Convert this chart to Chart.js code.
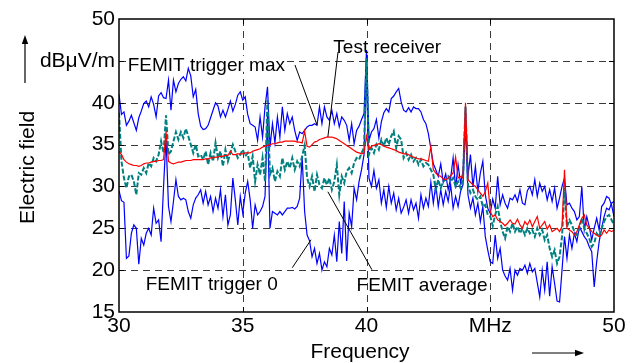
<!DOCTYPE html>
<html><head><meta charset="utf-8">
<script src="https://cdn.jsdelivr.net/npm/chart.js@4.4.1/dist/chart.umd.min.js"></script>
<style>html,body{margin:0;padding:0;background:#fff;}canvas{display:block;}</style>
</head><body>
<canvas id="c" width="636" height="363"></canvas>
<script>
// sampling grid: 30.0 ... 50.0 MHz, 0.1 MHz spacing
const freqStart = 30, freqStep = 0.1;

const triggerMax = [
41.0,38.6,38.9,37.3,37.8,38.5,37.6,36.7,38.2,39.0,
39.9,40.2,39.5,40.7,39.8,38.3,40.8,41.2,40.6,40.5,
42.7,39.1,42.7,41.3,42.3,42.8,43.1,42.6,44.1,43.2,
40.7,41.6,38.7,37.2,36.8,36.9,37.3,38.2,39.1,40.0,
39.6,38.3,39.1,38.3,39.2,40.2,39.0,39.8,40.9,41.3,
40.3,40.7,38.6,37.5,37.3,37.1,35.5,38.3,35.9,39.5,
41.9,34.7,37.5,35.2,38.3,35.9,39.5,36.7,38.7,37.5,
38.3,36.7,35.5,36.5,36.3,36.7,37.1,37.3,37.3,37.5,
37.3,39.5,37.5,39.5,38.3,37.9,39.1,37.5,38.7,37.1,
38.3,37.9,37.3,35.5,37.5,35.1,36.7,37.2,38.0,38.7,
46.3,35.5,36.5,36.9,38.0,35.8,37.7,38.8,39.3,38.9,
40.5,40.8,41.3,41.7,40.1,39.1,38.9,39.4,38.9,39.5,
39.3,39.3,38.9,38.0,37.5,36.3,34.5,32.7,32.0,31.2,
32.7,30.5,31.5,29.6,31.0,33.4,29.8,32.6,30.4,31.8,
39.5,31.2,33.8,30.0,32.4,29.4,31.6,33.0,29.0,27.4,
26.8,28.5,27.4,31.2,27.8,29.0,28.0,27.4,28.6,28.4,
29.0,28.2,29.6,28.0,27.8,29.5,30.0,29.0,30.8,28.8,
30.4,29.4,30.0,28.4,29.6,28.2,29.8,27.4,28.6,30.0,
31.0,27.8,28.0,27.4,27.0,26.0,26.4,30.0,24.8,26.4,
25.2,23.6,25.0,26.2,24.8,27.6,28.0,28.8,28.6,27.8,
26.4];

const trigger0 = [
29.5,28.3,28.1,21.4,21.7,24.4,25.4,25.0,20.7,23.8,
23.0,24.4,25.0,24.2,27.4,25.6,26.0,23.4,30.0,35.8,
27.6,25.8,28.2,30.8,28.8,28.4,28.6,28.4,27.0,26.2,
27.8,28.6,29.0,29.6,28.0,29.4,27.8,28.8,27.0,28.6,
27.4,29.6,26.4,29.0,25.4,26.6,31.0,28.4,25.4,28.8,
26.8,29.2,30.6,28.4,25.0,27.8,26.6,27.0,27.6,28.8,
38.5,25.0,27.0,26.8,26.6,27.0,26.6,27.0,27.4,27.4,
27.5,27.3,27.6,28.6,33.5,27.0,24.2,23.5,21.6,22.6,
20.8,22.0,20.0,21.0,20.4,22.6,21.8,24.2,21.0,25.8,
22.0,28.2,21.1,26.8,25.2,29.8,28.4,30.6,32.0,33.8,
44.0,31.0,30.0,31.9,29.8,30.8,28.0,29.6,27.5,30.0,
28.0,29.2,27.2,28.6,26.8,27.5,28.4,26.8,28.4,27.2,
28.0,26.2,29.0,27.4,28.6,27.6,30.5,28.0,30.2,27.6,
29.6,27.8,29.4,28.2,30.2,27.4,28.8,27.6,29.4,30.2,
37.5,29.0,27.4,28.6,26.6,28.0,25.8,27.6,24.0,22.4,
21.0,20.8,24.2,21.4,22.6,20.0,19.3,18.8,20.2,17.6,
20.0,19.4,20.2,20.0,20.6,19.6,20.8,19.8,20.2,18.5,
16.8,20.0,17.6,21.0,16.9,20.4,18.4,16.3,16.2,20.0,
24.0,21.4,24.2,22.6,24.4,23.4,25.2,24.6,24.0,23.6,
22.8,22.2,18.0,21.0,23.4,25.0,26.4,27.4,27.2,28.0,
28.2];

const testReceiver = [
34.2,33.8,33.2,32.9,32.7,32.6,32.5,32.5,32.4,32.5,
32.7,32.8,32.8,32.9,33.0,33.0,33.1,33.1,33.2,36.6,
33.0,32.8,32.7,32.8,32.9,32.9,33.0,33.1,33.1,33.1,
33.2,33.2,33.2,33.2,33.2,33.3,33.3,33.4,33.4,33.5,
33.5,33.6,33.6,33.7,33.7,34.2,33.8,33.8,33.9,33.9,
33.9,34.0,34.0,34.0,34.2,34.3,34.4,34.5,34.7,34.8,
34.9,35.0,35.1,35.1,35.2,35.3,35.3,35.4,35.4,35.4,
35.4,35.4,35.3,35.3,35.2,36.6,34.8,34.7,35.0,35.3,
35.4,35.6,35.7,35.8,35.9,35.9,35.9,35.8,35.7,35.5,
35.3,35.1,34.9,34.7,34.5,34.3,34.1,34.0,33.9,34.0,
36.0,34.4,34.8,34.9,35.0,35.1,35.0,34.8,34.7,34.6,
34.5,34.4,34.3,34.1,34.0,33.9,33.9,33.8,33.6,33.5,
33.4,33.3,33.3,33.2,33.1,33.0,34.8,32.0,31.6,31.3,
31.2,30.9,30.8,31.0,31.3,31.6,33.5,31.0,31.2,31.0,
40.0,30.8,30.5,30.2,30.0,29.6,29.2,28.8,29.4,30.4,
27.0,26.4,26.6,26.0,25.8,25.6,25.3,25.6,26.0,25.6,
25.5,26.1,25.4,25.0,25.8,25.4,26.0,25.2,25.8,26.4,
25.0,25.4,25.8,24.9,25.4,24.6,24.8,25.0,24.6,25.2,
32.0,25.0,24.8,24.6,24.2,24.6,25.4,26.2,26.6,25.4,
25.0,24.6,24.4,24.2,24.0,24.2,24.8,24.4,24.8,24.6,
24.8];

const femitAverage = [
38.8,33.0,31.0,29.8,31.2,31.4,30.6,29.0,31.6,31.4,
32.2,31.6,32.8,32.4,33.4,33.0,33.8,35.4,34.0,38.5,
33.8,34.2,35.4,36.5,35.6,36.5,35.8,36.9,36.0,35.0,
34.0,35.0,33.6,33.8,33.2,34.2,32.6,34.0,33.0,35.2,
33.4,34.2,32.4,34.4,33.0,34.0,35.0,34.2,33.4,33.8,
34.4,33.6,34.0,32.2,33.6,30.6,32.6,31.4,33.4,30.6,
40.3,31.4,32.2,30.6,31.8,31.2,33.4,32.0,33.0,32.2,
33.4,32.0,33.0,32.4,33.6,34.9,31.0,30.0,31.2,29.4,
31.4,30.2,29.8,31.0,30.2,31.0,29.6,30.6,32.6,29.0,
31.2,30.4,31.8,32.2,31.6,32.8,33.4,33.2,34.0,34.6,
45.3,33.8,34.6,34.0,35.0,34.4,35.6,34.8,35.8,35.0,
36.0,36.6,34.6,36.0,35.6,33.4,34.0,33.2,33.8,33.0,
33.4,32.6,33.2,32.4,32.8,32.6,32.0,31.4,29.6,30.8,
29.8,30.6,30.8,31.2,30.6,31.0,30.0,30.6,29.8,31.0,
39.5,30.2,29.2,29.6,28.8,28.4,28.8,27.6,27.8,26.6,
26.4,25.3,26.6,27.6,25.8,24.6,23.8,25.2,24.6,25.6,
24.6,25.2,24.4,25.0,24.2,25.0,24.4,24.8,24.0,25.0,
24.2,24.8,23.6,24.2,22.6,21.6,22.4,20.8,21.6,24.0,
29.8,25.2,26.0,25.4,24.6,24.2,25.0,26.2,25.0,24.4,
23.8,22.8,23.2,24.4,24.0,25.0,25.8,26.4,26.6,26.0,
25.4];

const freqMHz = triggerMax.map((_, i) => Math.round((freqStart + i * freqStep) * 10) / 10);

const xTickValues = [30, 35, 40, 45, 50];
const xTickLabels = ['30', '35', '40', 'MHz', '50'];
const yTickValues = [15, 20, 25, 30, 35, 40, 45, 50];
const yTickLabels = ['15', '20', '25', '30', '35', '40', 'dBμV/m', '50'];

// annotation texts (anchored at left/baseline in data units) and leader lines
const noteTexts = ['FEMIT trigger max', 'Test receiver', 'FEMIT trigger 0', 'FEMIT average'];
const noteFreq = [30.35, 38.66, 31.08, 39.6];
const noteLevel = [43.8, 45.94, 17.58, 17.54];
const noteBg = [true, true, false, false];
const leaderLines = [
  [37.11, 44.5, 38.0, 37.35],
  [38.85, 46.06, 38.44, 35.92],
  [37.0, 20.29, 37.76, 23.63],
  [38.44, 29.36, 40.22, 20.05]
];

const FONT = '"Liberation Sans", Arial, Helvetica, sans-serif';
const pts = arr => freqMHz.map((f, i) => ({x: f, y: arr[i]}));

function arrowHead(ctx, x, y, dx, dy) {
  const L = 9, W = 3.2;
  ctx.beginPath();
  ctx.moveTo(x, y);
  ctx.lineTo(x - dx * L - dy * W, y - dy * L + dx * W);
  ctx.lineTo(x - dx * L + dy * W, y - dy * L - dx * W);
  ctx.closePath();
  ctx.fill();
}

const decor = {
  id: 'decor',
  beforeDatasetsDraw(chart) {
    const {ctx, chartArea: a, scales: {x, y}} = chart;
    ctx.save();
    ctx.strokeStyle = '#3a3a3a';
    ctx.lineWidth = 1;
    ctx.setLineDash([7, 5]);
    yTickValues.slice(1, -1).forEach(v => {
      const p = Math.round(y.getPixelForValue(v)) + 0.5;
      ctx.beginPath(); ctx.moveTo(a.left, p); ctx.lineTo(a.right, p); ctx.stroke();
    });
    xTickValues.slice(1, -1).forEach(v => {
      const p = Math.round(x.getPixelForValue(v)) + 0.5;
      ctx.beginPath(); ctx.moveTo(p, a.top); ctx.lineTo(p, a.bottom); ctx.stroke();
    });
    ctx.setLineDash([]);
    ctx.font = '19px ' + FONT;
    ctx.fillStyle = '#fff';
    noteTexts.forEach((t, i) => {
      if (!noteBg[i]) return;
      const px = x.getPixelForValue(noteFreq[i]), py = y.getPixelForValue(noteLevel[i]);
      const w = ctx.measureText(t).width;
      ctx.fillRect(px - 1, py - 15, w + 2, 16);
    });
    ctx.restore();
  },
  afterDatasetsDraw(chart) {
    const {ctx, chartArea: a, scales: {x, y}} = chart;
    ctx.save();
    // frame
    ctx.strokeStyle = '#000';
    ctx.lineWidth = 1.5;
    ctx.strokeRect(a.left, a.top, a.right - a.left, a.bottom - a.top);
    // inward ticks
    ctx.lineWidth = 1;
    const T = 5;
    xTickValues.slice(1, -1).forEach(v => {
      const p = Math.round(x.getPixelForValue(v)) + 0.5;
      ctx.beginPath();
      ctx.moveTo(p, a.top); ctx.lineTo(p, a.top + T);
      ctx.moveTo(p, a.bottom); ctx.lineTo(p, a.bottom - T);
      ctx.stroke();
    });
    yTickValues.slice(1, -1).forEach(v => {
      const p = Math.round(y.getPixelForValue(v)) + 0.5;
      ctx.beginPath();
      ctx.moveTo(a.left, p); ctx.lineTo(a.left + T, p);
      ctx.moveTo(a.right, p); ctx.lineTo(a.right - T, p);
      ctx.stroke();
    });
    // annotations
    ctx.fillStyle = '#000';
    ctx.font = '19px ' + FONT;
    ctx.textAlign = 'left';
    ctx.textBaseline = 'alphabetic';
    noteTexts.forEach((t, i) => {
      ctx.fillText(t, x.getPixelForValue(noteFreq[i]), y.getPixelForValue(noteLevel[i]));
    });
    ctx.lineWidth = 1;
    leaderLines.forEach(l => {
      ctx.beginPath();
      ctx.moveTo(x.getPixelForValue(l[0]), y.getPixelForValue(l[1]));
      ctx.lineTo(x.getPixelForValue(l[2]), y.getPixelForValue(l[3]));
      ctx.stroke();
    });
    // axis titles
    ctx.font = '21px ' + FONT;
    ctx.textAlign = 'center';
    ctx.fillText('Frequency', a.left + 241, a.bottom + 46);
    ctx.save();
    ctx.translate(a.left - 85.5, (a.top + a.bottom) / 2 + 2);
    ctx.rotate(-Math.PI / 2);
    ctx.fillText('Electric field', 0, 0);
    ctx.restore();
    // arrows
    const ax = a.left - 94;
    ctx.lineWidth = 1.2;
    ctx.beginPath(); ctx.moveTo(ax, a.top + 64); ctx.lineTo(ax, a.top + 22); ctx.stroke();
    arrowHead(ctx, ax, a.top + 16, 0, -1);
    const ay = a.bottom + 41;
    ctx.beginPath(); ctx.moveTo(a.left + 413, ay); ctx.lineTo(a.left + 458, ay); ctx.stroke();
    arrowHead(ctx, a.left + 465, ay, 1, 0);
    ctx.restore();
  }
};

Chart.defaults.color = '#000';
new Chart(document.getElementById('c'), {
  type: 'line',
  data: {
    datasets: [
      {label: 'Test receiver', data: pts(testReceiver), borderColor: '#ff0000', borderWidth: 1.2},
      {label: 'FEMIT average', data: pts(femitAverage), borderColor: '#008080', borderWidth: 2, borderDash: [5, 2]},
      {label: 'FEMIT trigger max', data: pts(triggerMax), borderColor: '#0000ff', borderWidth: 1.2},
      {label: 'FEMIT trigger 0', data: pts(trigger0), borderColor: '#0000ff', borderWidth: 1.2}
    ]
  },
  options: {
    responsive: false,
    animation: false,
    devicePixelRatio: 1,
    layout: {padding: {left: 0, right: 22, top: 19, bottom: 0}},
    elements: {point: {radius: 0}, line: {tension: 0, fill: false}},
    plugins: {legend: {display: false}, tooltip: {enabled: false}},
    scales: {
      x: {
        type: 'linear', min: 30, max: 50,
        afterFit(s) { s.height = 51; },
        grid: {display: false, drawTicks: false},
        border: {display: false},
        ticks: {
          stepSize: 5, padding: 2, maxRotation: 0, autoSkip: false,
          color: '#000', font: {family: FONT, size: 21},
          callback: v => { const i = xTickValues.indexOf(v); return i < 0 ? '' : xTickLabels[i]; }
        }
      },
      y: {
        type: 'linear', min: 15, max: 50,
        afterFit(s) { s.width = 119; },
        grid: {display: false, drawTicks: false},
        border: {display: false},
        ticks: {
          stepSize: 5, padding: 4, autoSkip: false,
          color: '#000', font: {family: FONT, size: 21},
          callback: v => { const i = yTickValues.indexOf(v); return i < 0 ? '' : yTickLabels[i]; }
        }
      }
    }
  },
  plugins: [decor]
});
</script>
</body></html>
